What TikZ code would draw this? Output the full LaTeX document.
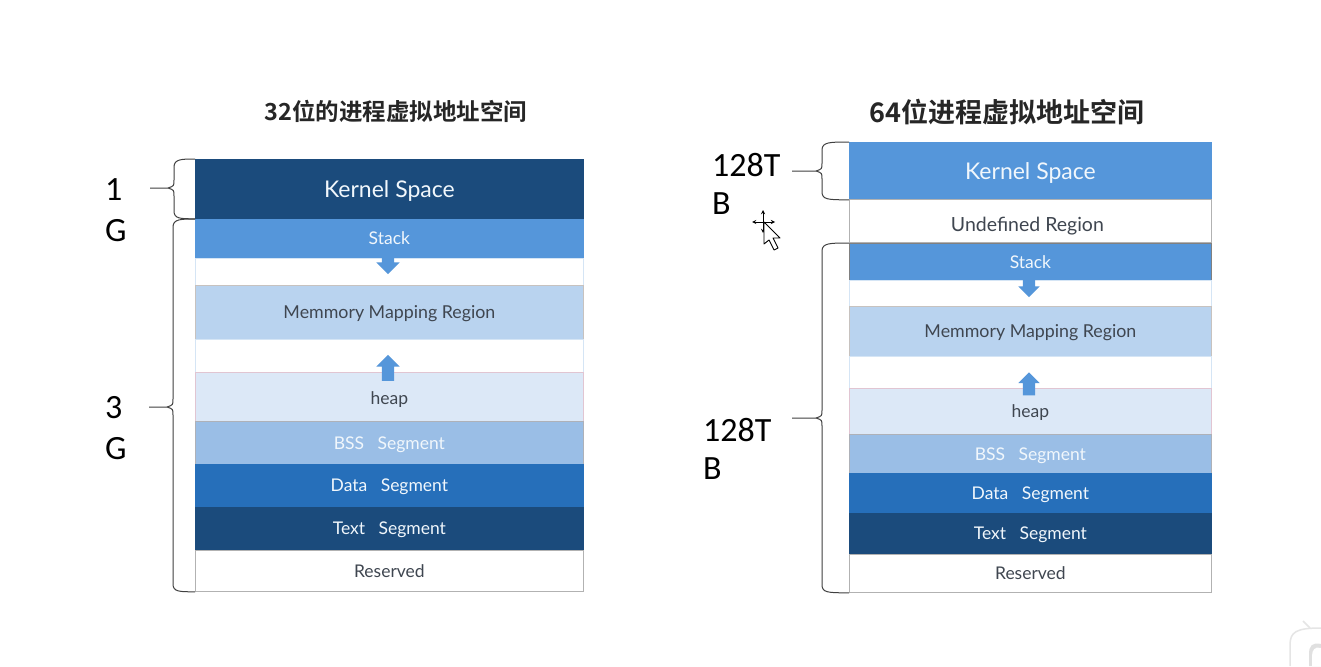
\documentclass[tikz,border=0pt]{standalone}
\usepackage{fontspec}
\setmainfont{Lato}
\newfontfamily\titlefont{Noto Sans CJK SC}[BoldFont=Noto Sans CJK SC Bold]
\newfontfamily\sizefont{Carlito}
\usetikzlibrary{calc,shapes.arrows}
\definecolor{deepblue}{HTML}{1B4B7C}
\definecolor{midblue}{HTML}{5596DA}
\definecolor{strongblue}{HTML}{266FBA}
\definecolor{paleblue}{HTML}{B9D3EF}
\definecolor{mistblue}{HTML}{DCE8F7}
\definecolor{softblue}{HTML}{9ABEE6}
\definecolor{inkgray}{HTML}{3F4650}
\tikzset{
  rowbox/.style={draw=#1, line width=0.8pt, anchor=north west, inner sep=0pt, text=white!92!midblue, text depth=0pt},
  rowbox/.default=gray!60,
  rowtext/.style 2 args={font=\fontsize{#1}{#1}\selectfont, text height=#2pt},
  lightrow/.style={text=inkgray},
  titlelabel/.style={font=\titlefont\bfseries\fontsize{#1}{#1}\selectfont, text=black!85},
  sizelabel/.style={font=\sizefont\fontsize{34}{#1}\selectfont, anchor=west, align=left, inner sep=0pt},
  bracket/.style={draw=black!75, line width=1pt},
  blockarrow/.style={shape=single arrow, fill=midblue, inner xsep=0pt, inner ysep=6pt, minimum width=23pt,
    single arrow head extend=5.5pt, single arrow tip angle=90, anchor=center}
}
% brace from one row corner to another, with its tick ending at a coordinate
\newcommand{\sizebrace}[4]{
  \draw[bracket] (#1) .. controls ($(#1 -| #3)+(#4+8,0)$) and ($(#1 -| #3)+(#4,0)$) .. ($(#1 -| #3)+(#4,8)$)
    -- ($(#3)+(#4,-8)$) .. controls ($(#3)+(#4,-2)$) .. ($(#3)+(#4-6,0)$) -- (#3)
    ($(#3)+(#4-6,0)$) .. controls ($(#3)+(#4,2)$) .. ($(#3)+(#4,8)$)
    -- ($(#2 -| #3)+(#4,-8)$) .. controls ($(#2 -| #3)+(#4,0)$) and ($(#2 -| #3)+(#4+6,0)$) .. (#2);
}
\begin{document}
\begin{tikzpicture}[x=1pt, y=-1pt]
\useasboundingbox (0,0) rectangle (1321,666);
\fill[white] (0,0) rectangle (1321,666);
\node[titlelabel=23.5] (leftTitle) at (396,111) {32位的进程虚拟地址空间};
\node[titlelabel=27] (rightTitle) at (1007,112) {64位进程虚拟地址空间};

% 32 bit column
\begin{scope}[minimum width=388pt]
\node[rowbox=deepblue, fill=deepblue, minimum height=59pt, rowtext={23}{18}] (kernelA) at (195,159) {Kernel Space};
\node[rowbox=midblue, fill=midblue, minimum height=38pt, rowtext={17.5}{12}] (stackA) at (195,219) {Stack};
\node[rowbox=paleblue!60, minimum height=27pt] (gapAa) at (195,258) {};
\node[rowbox=orange!20!paleblue, fill=paleblue, lightrow, minimum height=54pt, rowtext={17.8}{11.5}] (mapA) at (195,285) {Memmory Mapping Region};
\node[rowbox=paleblue!60, minimum height=33pt] (gapAb) at (195,339) {};
\node[rowbox=red!15!mistblue, fill=mistblue, lightrow, minimum height=49pt, rowtext={17.5}{15}] (heapA) at (195,372) {heap};
\node[rowbox=orange!20!softblue, fill=softblue, minimum height=43pt, rowtext={17.5}{13}] (bssA) at (195,421) {BSS\ \ \ Segment};
\node[rowbox=strongblue, fill=strongblue, minimum height=43pt, rowtext={17.5}{12}] (dataA) at (195,464) {Data\ \ \ Segment};
\node[rowbox=deepblue, fill=deepblue, minimum height=43pt, rowtext={17.5}{12}] (textA) at (195,507) {Text\ \ \ Segment};
\node[rowbox, lightrow, minimum height=41pt, rowtext={17.5}{13}] (reservedA) at (195,550) {Reserved};
\end{scope}
\node[blockarrow, rotate=-90, minimum height=24pt] (downA) at (388,259) {};
\node[blockarrow, rotate=90, minimum height=26pt] (upA) at (388,371) {};

% 64 bit column
\begin{scope}[minimum width=362pt]
\node[rowbox=midblue, fill=midblue, minimum height=57pt, rowtext={23}{17}] (kernelB) at (849,142) {Kernel Space};
\node[rowbox, lightrow, minimum height=43pt, rowtext={19.5}{21}] (undefB) at (849,199) {Undefined Region\kern 6pt};
\node[rowbox=black!50, fill=midblue, minimum height=37pt, rowtext={17.5}{13}] (stackB) at (849,243) {Stack};
\node[rowbox=paleblue!60, minimum height=26pt] (gapBa) at (849,280) {};
\node[rowbox=orange!20!paleblue, fill=paleblue, lightrow, minimum height=50pt, rowtext={17.8}{11.5}] (mapB) at (849,306) {Memmory Mapping Region};
\node[rowbox=paleblue!60, minimum height=32pt] (gapBb) at (849,356) {};
\node[rowbox=red!15!mistblue, fill=mistblue, lightrow, minimum height=46pt, rowtext={17.5}{13}] (heapB) at (849,388) {heap};
\node[rowbox=orange!20!softblue, fill=softblue, minimum height=39pt, rowtext={17.5}{13}] (bssB) at (849,434) {BSS\ \ \ Segment};
\node[rowbox=strongblue, fill=strongblue, minimum height=40pt, rowtext={17.5}{12}] (dataB) at (849,473) {Data\ \ \ Segment};
\node[rowbox=deepblue, fill=deepblue, minimum height=41pt, rowtext={17.5}{12}] (textB) at (849,513) {Text\ \ \ Segment};
\node[rowbox, lightrow, minimum height=38pt, rowtext={17.5}{13}] (reservedB) at (849,554) {Reserved};
\end{scope}
\node[blockarrow, rotate=-90, minimum width=21pt, minimum height=22pt, single arrow head extend=4.5pt] (downB) at (1029,283) {};
\node[blockarrow, rotate=90, minimum width=21pt, minimum height=23pt, single arrow head extend=4.5pt] (upB) at (1029,387) {};

% sizes and their braces
\node[sizelabel=41] (sizeAa) at (105,210) {1\\G};
\node[sizelabel=41] (sizeAb) at (105,428) {3\\G};
\node[sizelabel=38] (sizeBa) at (712,184) {128T\\B};
\node[sizelabel=38] (sizeBb) at (703,449) {128T\\B};
\coordinate (tipAa) at (150,188);
\coordinate (tipAb) at (149,407);
\coordinate (tipBa) at (792,171);
\coordinate (tipBb) at (792,418);
\sizebrace{kernelA.north west}{kernelA.south west}{tipAa}{24}
\sizebrace{stackA.north west}{reservedA.south west}{tipAb}{24}
\sizebrace{kernelB.north west}{kernelB.south west}{tipBa}{30}
\sizebrace{stackB.north west}{reservedB.south west}{tipBb}{30}

% pointer over the slide
\draw[black, line width=0.9pt, stealth-stealth] (752,222) -- (775,222);
\draw[black, line width=0.9pt, stealth-stealth] (763,210) -- (763,233);
\draw[black, fill=white, line width=0.9pt, line join=round] (764,222) -- (764,244) -- (769,240) -- (774,250) -- (778,248) -- (773,238) -- (780,238) -- cycle;

% corner of a button, cut off by the frame
\draw[black!10, line width=1.5pt] (1290,666) -- (1290,645) .. controls (1290,632) and (1296,628) .. (1321,628);
\draw[black!10, line width=1.5pt] (1303,621) -- (1310,628);
\fill[black!12] (1321,644) .. controls (1312,642) and (1309,646) .. (1309,654) -- (1309,666) -- (1321,666) -- cycle;
\fill[white] (1321,648) .. controls (1315,646) and (1312,650) .. (1312,656) -- (1312,666) -- (1321,666) -- cycle;
\end{tikzpicture}
\end{document}
